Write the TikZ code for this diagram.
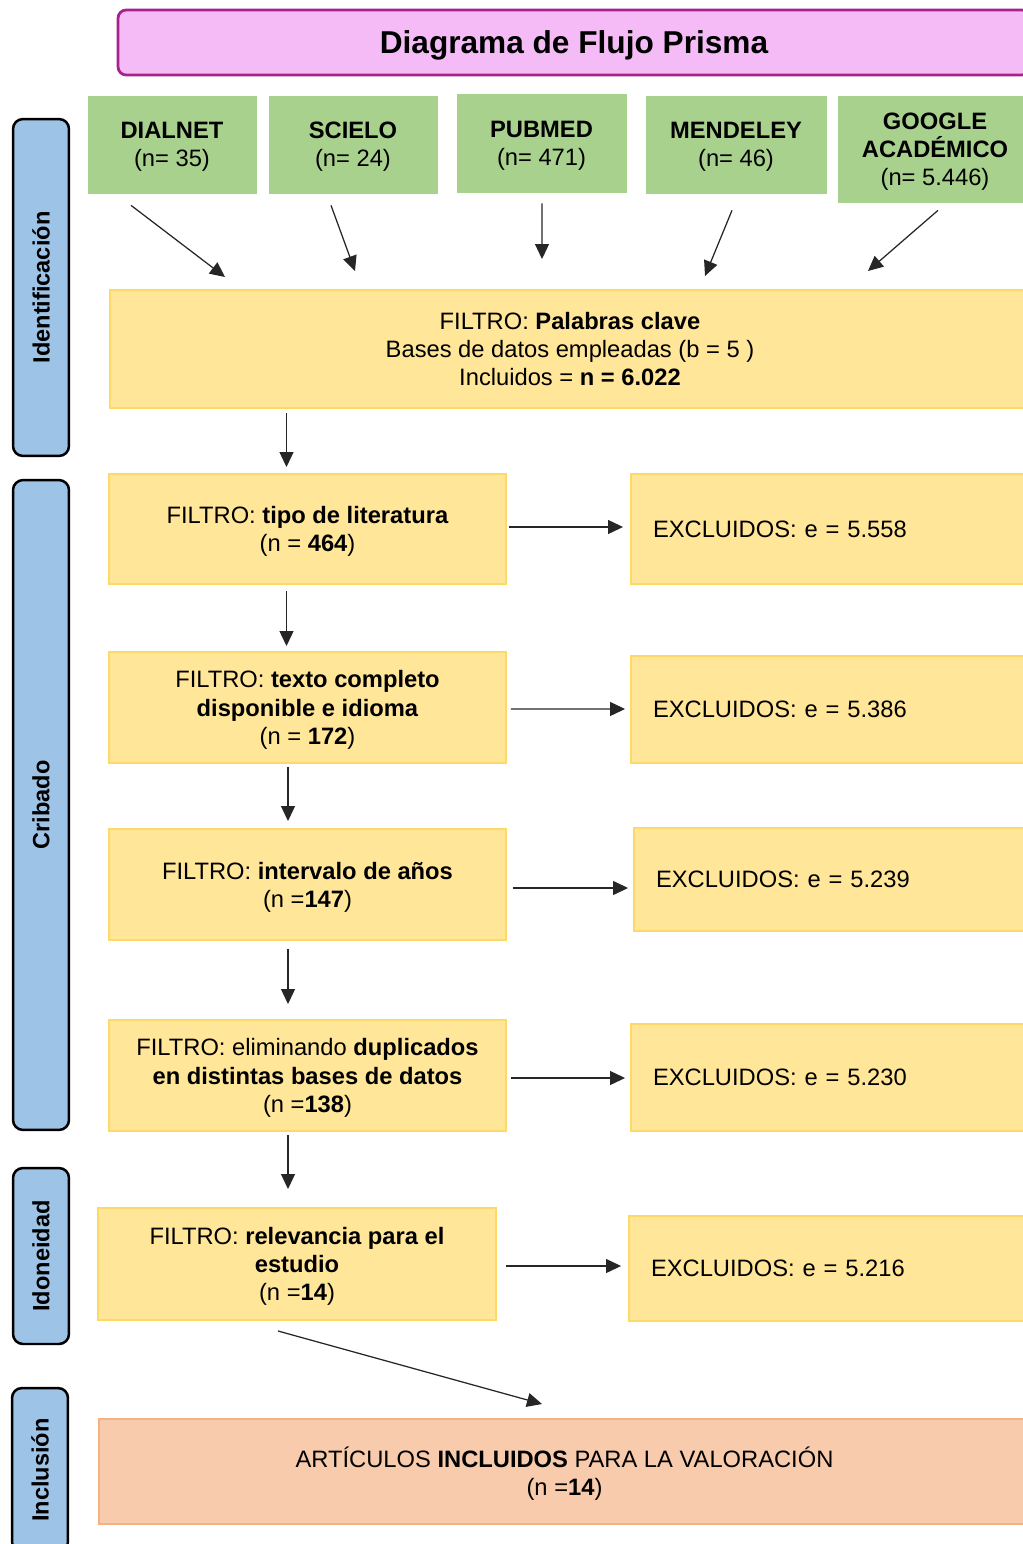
\documentclass[tikz,border=0pt]{standalone}
\usepackage{fontspec}
\setmainfont{Liberation Sans}
\usepackage{xcolor}
\usetikzlibrary{arrows.meta,calc,positioning}
\definecolor{rosa}{HTML}{F5BBF6}
\definecolor{morado}{HTML}{A8218E}
\definecolor{verde}{HTML}{A9D18E}
\definecolor{amarillo}{HTML}{FFE699}
\definecolor{dorado}{HTML}{FFD966}
\definecolor{salmon}{HTML}{F8CBAD}
\definecolor{naranja}{HTML}{F4B183}
\definecolor{celeste}{HTML}{9DC3E6}
\newcommand{\letra}{\fontsize{13.5pt}{16pt}\selectfont}
\tikzset{
  cabecera/.style={fill=rosa,draw=morado,line width=0.055cm,rounded corners=0.16cm,text depth=0pt,
    minimum width=18.24cm,minimum height=1.3cm,font=\fontsize{18pt}{21pt}\selectfont\bfseries},
  fuente/.style={fill=verde,draw=verde,align=center,font=\letra,inner sep=0pt,text depth=0pt},
  filtro/.style={fill=amarillo,draw=dorado,line width=0.04cm,align=center,font=\letra,inner sep=0pt,text depth=0pt},
  excluido/.style={fill=amarillo,draw=dorado,line width=0.04cm,align=left,font=\letra,inner xsep=0.44cm,inner ysep=0pt},
  lateral/.style={fill=celeste,draw=black,line width=0.05cm,rounded corners=0.2cm,rotate=90,
    minimum height=1.12cm,inner sep=0pt,font=\fontsize{13.4pt}{16pt}\selectfont\bfseries},
  flecha/.style={-{Triangle[length=0.3cm,width=0.28cm]},line width=0.025cm,black!85}
}
\begin{document}
\begin{tikzpicture}[x=0.02cm,y=-0.02cm]
\useasboundingbox (0,0) rectangle (1023,1544);
\clip (0,0) rectangle (1023,1544);
\node[cabecera] (titulo) at (574,42.5) {Diagrama de Flujo Prisma};
% bases de datos
\node[fuente,minimum width=3.36cm,minimum height=1.94cm] (dialnet) at (172,144.5) {\textbf{DIALNET}\\(n= 35)};
\node[fuente,minimum width=3.36cm,minimum height=1.94cm] (scielo) at (353,144.5) {\textbf{SCIELO}\\(n= 24)};
\node[fuente,minimum width=3.38cm,minimum height=1.96cm] (pubmed) at (541.5,143) {\textbf{PUBMED}\\(n= 471)};
\node[fuente,minimum width=3.6cm,minimum height=1.94cm] (mendeley) at (736,144.5) {\textbf{MENDELEY}\\(n= 46)};
\node[fuente,minimum width=3.88cm,minimum height=2.12cm] (google) at (935,149) {\textbf{GOOGLE}\\\textbf{ACADÉMICO}\\(n= 5.446)};
\node[filtro,minimum width=18.4cm,minimum height=2.36cm] (palabras) at (570,349)
  {FILTRO: \textbf{Palabras clave}\\Bases de datos empleadas (b = 5 )\\Incluidos = \textbf{n = 6.022}};
% filtros y excluidos
\node[filtro,minimum width=7.94cm,minimum height=2.2cm] (tipo) at (307.5,529) {FILTRO: \textbf{tipo de literatura}\\(n = \textbf{464})};
\node[excluido,text width=7.1cm,minimum height=2.2cm] (exc1) at (830.5,529) {EXCLUIDOS: e = 5.558};
\node[filtro,minimum width=7.94cm,minimum height=2.22cm] (texto) at (307.5,707.5) {FILTRO: \textbf{texto completo}\\\textbf{disponible e idioma}\\(n = \textbf{172})};
\node[excluido,text width=7.1cm,minimum height=2.14cm] (exc2) at (830.5,709.5) {EXCLUIDOS: e = 5.386};
\node[filtro,minimum width=7.94cm,minimum height=2.22cm] (anios) at (307.5,884.5) {FILTRO: \textbf{intervalo de años}\\(n =\textbf{147})};
\node[excluido,text width=7.04cm,minimum height=2.06cm] (exc3) at (832,879.5) {EXCLUIDOS: e = 5.239};
\node[filtro,minimum width=7.94cm,minimum height=2.22cm] (duplic) at (307.5,1075.5) {FILTRO: eliminando \textbf{duplicados}\\\textbf{en distintas bases de datos}\\(n =\textbf{138})};
\node[excluido,text width=7.1cm,minimum height=2.14cm] (exc4) at (830.5,1077.5) {EXCLUIDOS: e = 5.230};
\node[filtro,minimum width=7.96cm,minimum height=2.24cm] (relev) at (297,1264) {FILTRO: \textbf{relevancia para el}\\\textbf{estudio}\\(n =\textbf{14})};
\node[excluido,text width=7.14cm,minimum height=2.1cm] (exc5) at (829.5,1268.5) {EXCLUIDOS: e = 5.216};
\node[filtro,fill=salmon,draw=naranja,minimum width=18.62cm,minimum height=2.1cm] (incluidos) at (564.5,1471.5)
  {ARTÍCULOS \textbf{INCLUIDOS} PARA LA VALORACIÓN\\(n =\textbf{14})};
% fases
\node[lateral,minimum width=6.74cm] (ident) at (41,287.5) {Identificación};
\node[lateral,minimum width=13cm] (cribado) at (41,805) {Cribado};
\node[lateral,minimum width=3.52cm] (idoneidad) at (41,1256) {Idoneidad};
\node[lateral,minimum width=3.28cm] (inclusion) at (40,1470) {Inclusión};
% flechas
\draw[flecha] ($(dialnet.south)+(-41,12)$) -- ($(palabras.north)+(-345,-12)$);
\draw[flecha] ($(scielo.south)+(-22,12)$) -- ($(palabras.north)+(-215,-18)$);
\draw[flecha] ($(pubmed.south)+(0.5,11)$) -- ($(palabras.north)+(-28,-30)$);
\draw[flecha] ($(mendeley.south)+(-4,17)$) -- ($(palabras.north)+(135,-13)$);
\draw[flecha] ($(google.south)+(3,8)$) -- ($(palabras.north)+(298,-18)$);
\draw[flecha] ($(palabras.south -| tipo.north)+(-21,4)$) -- ($(tipo.north)+(-21,-6)$);
\draw[flecha] ($(tipo.south)+(-21,6)$) -- ($(texto.north)+(-21,-5)$);
\draw[flecha] ($(texto.south)+(-19.5,3)$) -- ($(anios.north)+(-19.5,-7)$);
\draw[flecha] ($(anios.south)+(-19.5,8)$) -- ($(duplic.north)+(-19.5,-15)$);
\draw[flecha] ($(duplic.south)+(-19.5,3)$) -- ($(relev.north)+(-9,-18)$);
\draw[flecha] ($(relev.south)+(-19,10)$) -- ($(incluidos.north)+(-22.5,-14)$);
\draw[flecha] ($(tipo.east)+(2,-2)$) -- ($(exc1.west)+(-7,-2)$);
\draw[flecha] ($(texto.east)+(4,1.5)$) -- ($(exc2.west)+(-5,-0.5)$);
\draw[flecha] ($(anios.east)+(6,3.5)$) -- ($(exc3.west)+(-5,8.5)$);
\draw[flecha] ($(duplic.east)+(4,2.5)$) -- ($(exc4.west)+(-5,0.5)$);
\draw[flecha] ($(relev.east)+(9,2)$) -- ($(exc5.west)+(-7,-2.5)$);
\end{tikzpicture}
\end{document}
